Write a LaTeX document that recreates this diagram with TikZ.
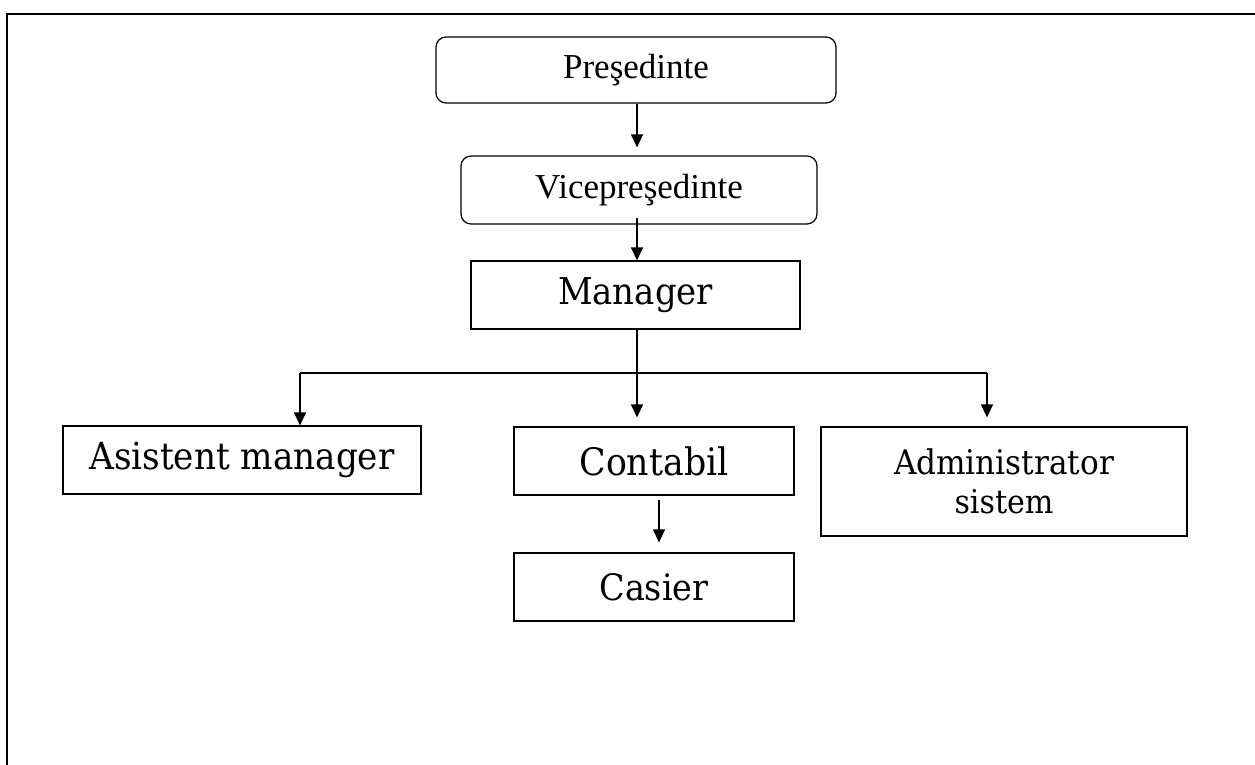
\documentclass[tikz,border=0pt]{standalone}
\usepackage{fontspec}
\usepackage{graphicx}
\setmainfont{DejaVu Serif}
\newfontfamily\tms{Liberation Serif}
\usetikzlibrary{arrows.meta}
\newcommand{\gw}[2]{\scalebox{1}[1.09]{\resizebox{#1}{!}{#2}}}
\tikzset{
  box/.style={draw, line width=1.2pt, inner sep=0pt, anchor=center, align=center},
  rbox/.style={box, rounded corners=10pt},
  arr/.style={line width=1.2pt, -{Triangle[length=13pt,width=12pt]}},
  ln/.style={line width=1.2pt},
  tfont/.style={font=\tms\fontsize{35}{40}\selectfont}
}
\begin{document}
\begin{tikzpicture}[x=1pt,y=-1pt]
\useasboundingbox (0,0) rectangle (1255,764);
\fill[white] (0,0) rectangle (1255,764);
\draw[line width=1.5pt] (1256,14) -- (7,14) -- (7,765);

\node[rbox, tfont, minimum width=400pt, minimum height=66pt] (pres) at (636,70) {Preşedinte};
\node[rbox, tfont, minimum width=356pt, minimum height=68pt] (vice) at (639,190) {Vicepreşedinte};
\node[box, minimum width=329pt, minimum height=68pt] (mgr) at (635.5,295) {\gw{155pt}{Manager}};
\node[box, minimum width=358pt, minimum height=68pt] (asist) at (242,460) {\gw{305pt}{Asistent manager}};
\node[box, minimum width=280pt, minimum height=68pt] (con) at (654,461) {\gw{149pt}{Contabil}};
\node[box, minimum width=280pt, minimum height=68pt] (cas) at (654,587) {\gw{109pt}{Casier}};
\node[box, minimum width=366pt, minimum height=109pt, font=\fontsize{30}{39}\selectfont] (admin) at (1004,481.5) {\gw{220pt}{Administrator}\\\gw{99pt}{sistem}};

\coordinate (bl) at (300,373);
\coordinate (bm) at (637,373);
\coordinate (br) at (987,373);

\draw[arr, shorten >=8pt] ([xshift=1pt]pres.south) -- ([xshift=1pt]pres.south |- vice.north);
\draw[arr] ([yshift=7pt]vice.south -| bm) -- (bm |- mgr.north);
\draw[ln] (mgr.south -| bm) -- (bm);
\draw[arr, shorten >=9pt] (bm) -- (bm |- con.north);
\draw[ln] (bl) -- (br);
\draw[arr] (bl) -- (bl |- asist.north);
\draw[arr, shorten >=9pt] (br) -- (br |- admin.north);
\draw[arr, shorten >=10pt] ([xshift=5pt,yshift=-4pt]con.south) -- ([xshift=5pt]cas.north);
\end{tikzpicture}
\end{document}
